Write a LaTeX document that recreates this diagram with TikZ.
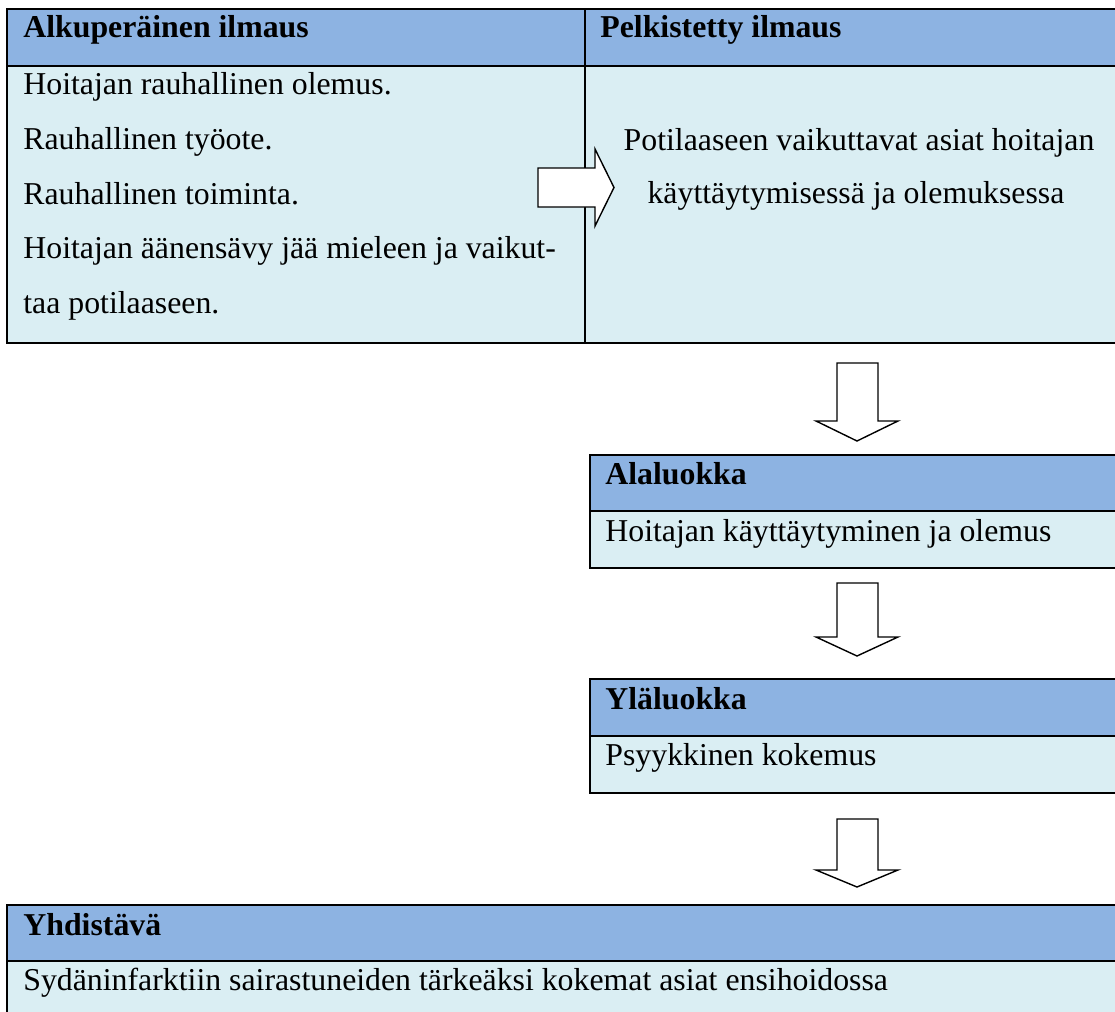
\documentclass[tikz,border=0pt]{standalone}
\usepackage{fontspec}
\setmainfont{Liberation Serif}
\definecolor{hdr}{HTML}{8DB3E2}
\definecolor{bdy}{HTML}{DAEEF3}
\begin{document}
\begin{tikzpicture}[x=0.5pt,y=-0.5pt,
  txt/.style={anchor=base west,inner sep=0pt,font=\fontsize{15.9}{19}\selectfont},
  ctxt/.style={anchor=base,inner sep=0pt,font=\fontsize{15.9}{19}\selectfont},
  htxt/.style={txt,font=\fontsize{15.9}{19}\selectfont\bfseries},
  hbox/.style={fill=hdr,draw=black,line width=1pt},
  bbox/.style={fill=bdy,draw=black,line width=1pt},
  blockarrow/.style={fill=white,draw=black,line width=0.7pt,line join=miter}]
\useasboundingbox (0,0) rectangle (1115,1012);
\clip (0,0) rectangle (1115,1012);
% top table
\path[hbox] (7,9) rectangle (1130,65.7);
\path[bbox] (7,65.7) rectangle (1130,342.5);
\draw[line width=1pt] (585,9) -- (585,342.5);
\node[htxt] (h1) at (23,37) {Alkuperäinen ilmaus};
\node[htxt] (h2) at (600,38) {Pelkistetty ilmaus};
\node[txt] (l1) at (23,94) {Hoitajan rauhallinen olemus.};
\node[txt] (l2) at (23,149) {Rauhallinen työote.};
\node[txt] (l3) at (23,204) {Rauhallinen toiminta.};
\node[txt] (l4) at (23,258) {Hoitajan äänensävy jää mieleen ja vaikut-};
\node[txt] (l5) at (23,313) {taa potilaaseen.};
\node[ctxt] (r1) at (859,150) {Potilaaseen vaikuttavat asiat hoitajan};
\node[ctxt] (r2) at (856,203) {käyttäytymisessä ja olemuksessa};
% right block arrow
\path[blockarrow] (538,168) -- (595,168) -- (595,149) -- (614,187.5) -- (595,226) -- (595,207) -- (538,207) -- cycle;
% down arrow 1
\path[blockarrow] (837,363) -- (878,363) -- (878,421) -- (898,421) -- (857,441) -- (816,421) -- (837,421) -- cycle;
% Alaluokka
\path[hbox] (590,455) rectangle (1130,511);
\path[bbox] (590,511) rectangle (1130,568);
\node[htxt] (a1) at (605,484) {Alaluokka};
\node[txt] (a2) at (605,541) {Hoitajan käyttäytyminen ja olemus};
% down arrow 2
\path[blockarrow] (837,583) -- (878,583) -- (878,637) -- (898,637) -- (857,656) -- (816,637) -- (837,637) -- cycle;
% Yläluokka
\path[hbox] (590,679) rectangle (1130,736);
\path[bbox] (590,736) rectangle (1130,793);
\node[htxt] (y1) at (605,709) {Yläluokka};
\node[txt] (y2) at (605,765) {Psyykkinen kokemus};
% down arrow 3
\path[blockarrow] (837,819) -- (878,819) -- (878,870) -- (898,870) -- (857,887) -- (816,870) -- (837,870) -- cycle;
% Yhdistävä
\path[hbox] (7,905) rectangle (1130,961);
\path[bbox] (7,961) rectangle (1130,1030);
\node[htxt] (k1) at (23,935) {Yhdistävä};
\node[txt] (k2) at (23,990) {Sydäninfarktiin sairastuneiden tärkeäksi kokemat asiat ensihoidossa};
\end{tikzpicture}
\end{document}
